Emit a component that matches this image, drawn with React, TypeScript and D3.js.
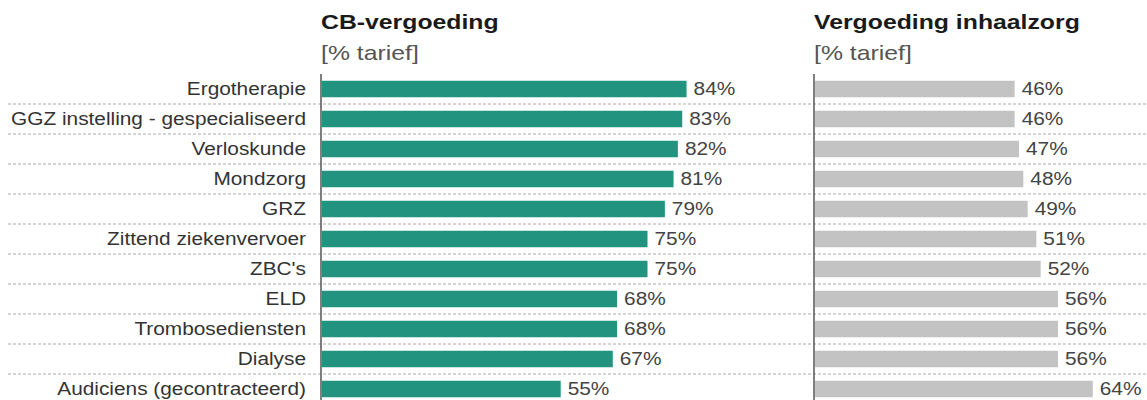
import React from "react";
import * as d3 from "d3";

const categories = [
  "Ergotherapie",
  "GGZ instelling - gespecialiseerd",
  "Verloskunde",
  "Mondzorg",
  "GRZ",
  "Zittend ziekenvervoer",
  "ZBC's",
  "ELD",
  "Trombosediensten",
  "Dialyse",
  "Audiciens (gecontracteerd)",
];
const cbValues = [84, 83, 82, 81, 79, 75, 75, 68, 68, 67, 55];
const inhaalValues = [46, 46, 47, 48, 49, 51, 52, 56, 56, 56, 64];

const panels = [
  { title: "CB-vergoeding", subtitle: "[% tarief]", values: cbValues, x0: 321, color: "#21937f" },
  { title: "Vergoeding inhaalzorg", subtitle: "[% tarief]", values: inhaalValues, x0: 814, color: "#c3c3c3" },
];

const W = 1147;
const H = 400;
const FONT = "'Liberation Sans', Arial, sans-serif";
const LABEL_SIZE = 17.5;
const LABEL_SX = 1.19;

function SText({ x, y, sx, children, ...rest }: any) {
  return (
    <text transform={`translate(${x},${y}) scale(${sx},1)`} {...rest}>
      {children}
    </text>
  );
}

export default function App() {
  const y = d3
    .scaleBand<string>()
    .domain(categories)
    .range([74, 404])
    .paddingInner(0.45)
    .paddingOuter(0.225);
  const step = y.step();
  const x = d3.scaleLinear().domain([0, 100]).range([0, 434]);

  return (
    <svg
      width={W}
      height={H}
      style={{ position: "absolute", left: 0, top: 0, background: "#fff" }}
      fontFamily={FONT}
    >
      {categories.slice(0, -1).map((c) => {
        const yy = (y(c) as number) + y.bandwidth() / 2 + step / 2;
        return (
          <line
            key={"sep" + c}
            x1={8}
            x2={W}
            y1={yy}
            y2={yy}
            stroke="#aaaaaa"
            strokeWidth={1}
            strokeDasharray="3,2"
          />
        );
      })}
      {categories.map((c) => (
        <SText
          key={"lab" + c}
          x={306}
          y={(y(c) as number) + y.bandwidth() / 2 + 6}
          sx={LABEL_SX}
          textAnchor="end"
          fontSize={LABEL_SIZE}
          fill="#333"
        >
          {c}
        </SText>
      ))}
      {panels.map((p) => (
        <g key={p.title}>
          <SText x={p.x0} y={29} sx={1.24} fontSize={20} fontWeight="bold" fill="#1a1a1a">
            {p.title}
          </SText>
          <SText x={p.x0} y={60} sx={1.24} fontSize={20} fill="#555">
            {p.subtitle}
          </SText>
          {categories.map((c, i) => {
            const v = p.values[i];
            const yy = y(c) as number;
            return (
              <g key={c}>
                <rect x={p.x0 + 1} y={yy} width={x(v)} height={y.bandwidth()} fill={p.color} />
                <SText
                  x={p.x0 + 1 + x(v) + 7}
                  y={yy + y.bandwidth() / 2 + 6}
                  sx={LABEL_SX}
                  fontSize={LABEL_SIZE}
                  fill="#444"
                >
                  {v}%
                </SText>
              </g>
            );
          })}
          <line x1={p.x0} x2={p.x0} y1={74} y2={H} stroke="#555" strokeWidth={1.5} />
        </g>
      ))}
    </svg>
  );
}
